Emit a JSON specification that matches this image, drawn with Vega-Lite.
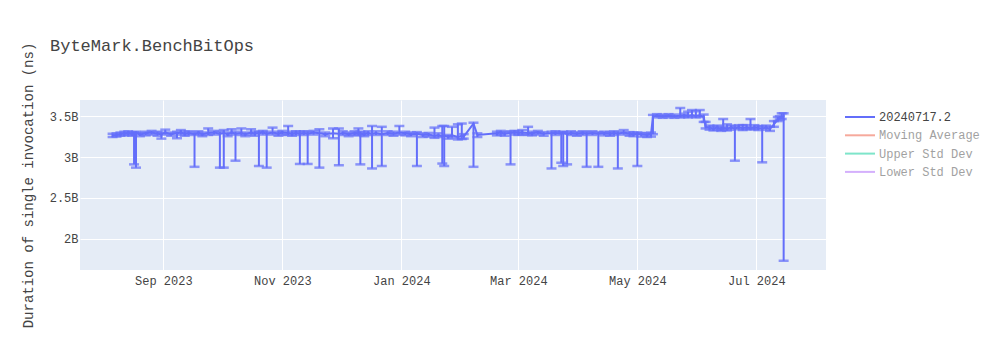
{
  "$schema": "https://vega.github.io/schema/vega-lite/v6.json",
  "width": 746,
  "height": 170,
  "autosize": {"type": "none"},
  "padding": {"left": 80, "top": 100, "right": 174, "bottom": 80},
  "background": "white",
  "title": {"text": "ByteMark.BenchBitOps", "anchor": "start", "frame": "group", "dx": -30, "offset": 0, "dy": 26, "baseline": "alphabetic", "fontSize": 17, "fontWeight": "normal", "color": "#444", "font": "Liberation Mono"},
  "config": {
    "font": "Liberation Mono",
    "view": {"fill": "#E5ECF6", "stroke": null},
    "axis": {"gridColor": "white", "gridWidth": 1, "domain": false, "ticks": false, "labelColor": "#444", "labelFontSize": 12, "labelFont": "Liberation Mono", "titleColor": "#444", "titleFontSize": 14, "titleFontWeight": "normal", "titleFont": "Liberation Mono"}
  },
  "data": {"values": [
    {"date": "2023-08-06", "duration": 3.265e9, "lower": 3.245e9, "upper": 3.285e9},
    {"date": "2023-08-08", "duration": 3.27e9, "lower": 3.25e9, "upper": 3.29e9},
    {"date": "2023-08-10", "duration": 3.28e9, "lower": 3.26e9, "upper": 3.30e9},
    {"date": "2023-08-12", "duration": 3.29e9, "lower": 3.265e9, "upper": 3.31e9},
    {"date": "2023-08-14", "duration": 3.295e9, "lower": 3.27e9, "upper": 3.315e9},
    {"date": "2023-08-16", "duration": 3.28e9, "lower": 3.26e9, "upper": 3.30e9},
    {"date": "2023-08-17", "duration": 3.285e9, "lower": 2.91e9, "upper": 3.30e9},
    {"date": "2023-08-18", "duration": 3.29e9, "lower": 2.87e9, "upper": 3.31e9},
    {"date": "2023-08-20", "duration": 3.275e9, "lower": 3.255e9, "upper": 3.295e9},
    {"date": "2023-08-23", "duration": 3.29e9, "lower": 3.265e9, "upper": 3.31e9},
    {"date": "2023-08-26", "duration": 3.30e9, "lower": 3.275e9, "upper": 3.32e9},
    {"date": "2023-08-29", "duration": 3.285e9, "lower": 3.26e9, "upper": 3.31e9},
    {"date": "2023-08-31", "duration": 3.28e9, "lower": 3.225e9, "upper": 3.30e9},
    {"date": "2023-09-02", "duration": 3.30e9, "lower": 3.275e9, "upper": 3.335e9},
    {"date": "2023-09-05", "duration": 3.28e9, "lower": 3.26e9, "upper": 3.30e9},
    {"date": "2023-09-08", "duration": 3.29e9, "lower": 3.23e9, "upper": 3.31e9},
    {"date": "2023-09-10", "duration": 3.30e9, "lower": 3.275e9, "upper": 3.33e9},
    {"date": "2023-09-12", "duration": 3.285e9, "lower": 3.26e9, "upper": 3.31e9},
    {"date": "2023-09-14", "duration": 3.295e9, "lower": 3.27e9, "upper": 3.315e9},
    {"date": "2023-09-17", "duration": 3.28e9, "lower": 2.88e9, "upper": 3.30e9},
    {"date": "2023-09-19", "duration": 3.295e9, "lower": 3.27e9, "upper": 3.315e9},
    {"date": "2023-09-21", "duration": 3.28e9, "lower": 3.255e9, "upper": 3.30e9},
    {"date": "2023-09-24", "duration": 3.295e9, "lower": 3.27e9, "upper": 3.35e9},
    {"date": "2023-09-27", "duration": 3.30e9, "lower": 3.275e9, "upper": 3.32e9},
    {"date": "2023-09-30", "duration": 3.285e9, "lower": 2.87e9, "upper": 3.31e9},
    {"date": "2023-10-02", "duration": 3.29e9, "lower": 2.87e9, "upper": 3.33e9},
    {"date": "2023-10-04", "duration": 3.28e9, "lower": 3.255e9, "upper": 3.30e9},
    {"date": "2023-10-06", "duration": 3.30e9, "lower": 3.275e9, "upper": 3.34e9},
    {"date": "2023-10-08", "duration": 3.285e9, "lower": 2.955e9, "upper": 3.31e9},
    {"date": "2023-10-11", "duration": 3.295e9, "lower": 3.27e9, "upper": 3.35e9},
    {"date": "2023-10-13", "duration": 3.28e9, "lower": 3.255e9, "upper": 3.30e9},
    {"date": "2023-10-16", "duration": 3.30e9, "lower": 3.275e9, "upper": 3.34e9},
    {"date": "2023-10-18", "duration": 3.285e9, "lower": 3.26e9, "upper": 3.31e9},
    {"date": "2023-10-20", "duration": 3.29e9, "lower": 2.89e9, "upper": 3.31e9},
    {"date": "2023-10-22", "duration": 3.30e9, "lower": 3.275e9, "upper": 3.32e9},
    {"date": "2023-10-24", "duration": 3.285e9, "lower": 2.87e9, "upper": 3.31e9},
    {"date": "2023-10-27", "duration": 3.30e9, "lower": 3.275e9, "upper": 3.36e9},
    {"date": "2023-10-30", "duration": 3.285e9, "lower": 3.26e9, "upper": 3.31e9},
    {"date": "2023-11-01", "duration": 3.30e9, "lower": 3.275e9, "upper": 3.32e9},
    {"date": "2023-11-04", "duration": 3.295e9, "lower": 3.27e9, "upper": 3.38e9},
    {"date": "2023-11-06", "duration": 3.285e9, "lower": 3.26e9, "upper": 3.31e9},
    {"date": "2023-11-08", "duration": 3.295e9, "lower": 3.27e9, "upper": 3.315e9},
    {"date": "2023-11-10", "duration": 3.285e9, "lower": 2.915e9, "upper": 3.31e9},
    {"date": "2023-11-12", "duration": 3.295e9, "lower": 3.27e9, "upper": 3.315e9},
    {"date": "2023-11-14", "duration": 3.285e9, "lower": 2.915e9, "upper": 3.31e9},
    {"date": "2023-11-17", "duration": 3.30e9, "lower": 3.275e9, "upper": 3.32e9},
    {"date": "2023-11-20", "duration": 3.29e9, "lower": 2.87e9, "upper": 3.34e9},
    {"date": "2023-11-23", "duration": 3.28e9, "lower": 3.255e9, "upper": 3.30e9},
    {"date": "2023-11-27", "duration": 3.29e9, "lower": 3.23e9, "upper": 3.35e9},
    {"date": "2023-11-30", "duration": 3.285e9, "lower": 2.90e9, "upper": 3.35e9},
    {"date": "2023-12-02", "duration": 3.295e9, "lower": 3.27e9, "upper": 3.315e9},
    {"date": "2023-12-05", "duration": 3.28e9, "lower": 3.255e9, "upper": 3.30e9},
    {"date": "2023-12-08", "duration": 3.295e9, "lower": 3.27e9, "upper": 3.315e9},
    {"date": "2023-12-10", "duration": 3.29e9, "lower": 3.265e9, "upper": 3.35e9},
    {"date": "2023-12-11", "duration": 3.285e9, "lower": 2.91e9, "upper": 3.31e9},
    {"date": "2023-12-13", "duration": 3.28e9, "lower": 3.255e9, "upper": 3.30e9},
    {"date": "2023-12-15", "duration": 3.295e9, "lower": 3.27e9, "upper": 3.315e9},
    {"date": "2023-12-17", "duration": 3.285e9, "lower": 2.86e9, "upper": 3.38e9},
    {"date": "2023-12-19", "duration": 3.295e9, "lower": 3.27e9, "upper": 3.315e9},
    {"date": "2023-12-22", "duration": 3.28e9, "lower": 2.89e9, "upper": 3.37e9},
    {"date": "2023-12-25", "duration": 3.295e9, "lower": 3.27e9, "upper": 3.315e9},
    {"date": "2023-12-28", "duration": 3.285e9, "lower": 3.26e9, "upper": 3.31e9},
    {"date": "2023-12-31", "duration": 3.30e9, "lower": 3.275e9, "upper": 3.38e9},
    {"date": "2024-01-03", "duration": 3.29e9, "lower": 3.265e9, "upper": 3.31e9},
    {"date": "2024-01-06", "duration": 3.28e9, "lower": 3.255e9, "upper": 3.30e9},
    {"date": "2024-01-09", "duration": 3.285e9, "lower": 2.89e9, "upper": 3.305e9},
    {"date": "2024-01-12", "duration": 3.27e9, "lower": 3.245e9, "upper": 3.29e9},
    {"date": "2024-01-15", "duration": 3.275e9, "lower": 3.25e9, "upper": 3.295e9},
    {"date": "2024-01-18", "duration": 3.26e9, "lower": 3.235e9, "upper": 3.36e9},
    {"date": "2024-01-20", "duration": 3.27e9, "lower": 3.245e9, "upper": 3.29e9},
    {"date": "2024-01-22", "duration": 3.255e9, "lower": 2.92e9, "upper": 3.38e9},
    {"date": "2024-01-23", "duration": 3.26e9, "lower": 2.89e9, "upper": 3.38e9},
    {"date": "2024-01-25", "duration": 3.25e9, "lower": 3.225e9, "upper": 3.27e9},
    {"date": "2024-01-27", "duration": 3.265e9, "lower": 3.24e9, "upper": 3.37e9},
    {"date": "2024-01-30", "duration": 3.245e9, "lower": 3.215e9, "upper": 3.40e9},
    {"date": "2024-02-01", "duration": 3.26e9, "lower": 3.22e9, "upper": 3.41e9},
    {"date": "2024-02-02", "duration": 3.25e9, "lower": 3.225e9, "upper": 3.28e9},
    {"date": "2024-02-07", "duration": 3.41e9, "lower": 2.88e9, "upper": 3.42e9},
    {"date": "2024-02-09", "duration": 3.27e9, "lower": 3.245e9, "upper": 3.29e9},
    {"date": "2024-02-19", "duration": 3.29e9, "lower": 3.265e9, "upper": 3.31e9},
    {"date": "2024-02-21", "duration": 3.30e9, "lower": 3.275e9, "upper": 3.32e9},
    {"date": "2024-02-23", "duration": 3.285e9, "lower": 3.26e9, "upper": 3.305e9},
    {"date": "2024-02-26", "duration": 3.295e9, "lower": 2.91e9, "upper": 3.315e9},
    {"date": "2024-02-28", "duration": 3.30e9, "lower": 3.275e9, "upper": 3.32e9},
    {"date": "2024-03-01", "duration": 3.295e9, "lower": 3.27e9, "upper": 3.315e9},
    {"date": "2024-03-03", "duration": 3.30e9, "lower": 3.275e9, "upper": 3.33e9},
    {"date": "2024-03-06", "duration": 3.295e9, "lower": 3.27e9, "upper": 3.37e9},
    {"date": "2024-03-08", "duration": 3.29e9, "lower": 3.265e9, "upper": 3.31e9},
    {"date": "2024-03-11", "duration": 3.30e9, "lower": 3.275e9, "upper": 3.32e9},
    {"date": "2024-03-14", "duration": 3.285e9, "lower": 3.26e9, "upper": 3.305e9},
    {"date": "2024-03-18", "duration": 3.29e9, "lower": 2.86e9, "upper": 3.31e9},
    {"date": "2024-03-20", "duration": 3.295e9, "lower": 3.27e9, "upper": 3.315e9},
    {"date": "2024-03-23", "duration": 3.285e9, "lower": 2.93e9, "upper": 3.305e9},
    {"date": "2024-03-24", "duration": 3.29e9, "lower": 2.89e9, "upper": 3.31e9},
    {"date": "2024-03-26", "duration": 3.28e9, "lower": 2.91e9, "upper": 3.30e9},
    {"date": "2024-03-28", "duration": 3.295e9, "lower": 3.27e9, "upper": 3.315e9},
    {"date": "2024-03-31", "duration": 3.285e9, "lower": 3.26e9, "upper": 3.305e9},
    {"date": "2024-04-03", "duration": 3.295e9, "lower": 3.27e9, "upper": 3.315e9},
    {"date": "2024-04-05", "duration": 3.285e9, "lower": 2.88e9, "upper": 3.305e9},
    {"date": "2024-04-08", "duration": 3.295e9, "lower": 3.27e9, "upper": 3.315e9},
    {"date": "2024-04-11", "duration": 3.285e9, "lower": 2.88e9, "upper": 3.305e9},
    {"date": "2024-04-14", "duration": 3.29e9, "lower": 3.265e9, "upper": 3.31e9},
    {"date": "2024-04-17", "duration": 3.285e9, "lower": 3.26e9, "upper": 3.305e9},
    {"date": "2024-04-19", "duration": 3.295e9, "lower": 3.27e9, "upper": 3.315e9},
    {"date": "2024-04-21", "duration": 3.285e9, "lower": 2.86e9, "upper": 3.305e9},
    {"date": "2024-04-24", "duration": 3.30e9, "lower": 3.275e9, "upper": 3.33e9},
    {"date": "2024-04-27", "duration": 3.285e9, "lower": 3.26e9, "upper": 3.305e9},
    {"date": "2024-04-29", "duration": 3.28e9, "lower": 3.255e9, "upper": 3.30e9},
    {"date": "2024-05-01", "duration": 3.285e9, "lower": 2.89e9, "upper": 3.30e9},
    {"date": "2024-05-03", "duration": 3.275e9, "lower": 3.25e9, "upper": 3.295e9},
    {"date": "2024-05-06", "duration": 3.27e9, "lower": 3.245e9, "upper": 3.29e9},
    {"date": "2024-05-08", "duration": 3.28e9, "lower": 3.25e9, "upper": 3.30e9},
    {"date": "2024-05-09", "duration": 3.495e9, "lower": 3.28e9, "upper": 3.515e9},
    {"date": "2024-05-11", "duration": 3.505e9, "lower": 3.485e9, "upper": 3.525e9},
    {"date": "2024-05-14", "duration": 3.50e9, "lower": 3.48e9, "upper": 3.52e9},
    {"date": "2024-05-17", "duration": 3.505e9, "lower": 3.485e9, "upper": 3.525e9},
    {"date": "2024-05-20", "duration": 3.50e9, "lower": 3.48e9, "upper": 3.52e9},
    {"date": "2024-05-23", "duration": 3.505e9, "lower": 3.485e9, "upper": 3.60e9},
    {"date": "2024-05-25", "duration": 3.51e9, "lower": 3.49e9, "upper": 3.53e9},
    {"date": "2024-05-27", "duration": 3.505e9, "lower": 3.485e9, "upper": 3.555e9},
    {"date": "2024-05-29", "duration": 3.515e9, "lower": 3.495e9, "upper": 3.575e9},
    {"date": "2024-05-31", "duration": 3.505e9, "lower": 3.485e9, "upper": 3.56e9},
    {"date": "2024-06-02", "duration": 3.51e9, "lower": 3.49e9, "upper": 3.575e9},
    {"date": "2024-06-04", "duration": 3.49e9, "lower": 3.43e9, "upper": 3.52e9},
    {"date": "2024-06-05", "duration": 3.37e9, "lower": 3.35e9, "upper": 3.43e9},
    {"date": "2024-06-07", "duration": 3.36e9, "lower": 3.335e9, "upper": 3.385e9},
    {"date": "2024-06-09", "duration": 3.35e9, "lower": 3.325e9, "upper": 3.375e9},
    {"date": "2024-06-11", "duration": 3.36e9, "lower": 3.335e9, "upper": 3.385e9},
    {"date": "2024-06-13", "duration": 3.345e9, "lower": 3.32e9, "upper": 3.37e9},
    {"date": "2024-06-14", "duration": 3.355e9, "lower": 3.335e9, "upper": 3.465e9},
    {"date": "2024-06-16", "duration": 3.35e9, "lower": 3.325e9, "upper": 3.40e9},
    {"date": "2024-06-18", "duration": 3.36e9, "lower": 3.335e9, "upper": 3.385e9},
    {"date": "2024-06-20", "duration": 3.35e9, "lower": 2.955e9, "upper": 3.375e9},
    {"date": "2024-06-22", "duration": 3.365e9, "lower": 3.34e9, "upper": 3.39e9},
    {"date": "2024-06-24", "duration": 3.355e9, "lower": 3.33e9, "upper": 3.39e9},
    {"date": "2024-06-26", "duration": 3.365e9, "lower": 3.34e9, "upper": 3.39e9},
    {"date": "2024-06-28", "duration": 3.36e9, "lower": 3.34e9, "upper": 3.465e9},
    {"date": "2024-06-30", "duration": 3.365e9, "lower": 3.34e9, "upper": 3.39e9},
    {"date": "2024-07-02", "duration": 3.355e9, "lower": 3.33e9, "upper": 3.38e9},
    {"date": "2024-07-04", "duration": 3.35e9, "lower": 2.935e9, "upper": 3.375e9},
    {"date": "2024-07-06", "duration": 3.36e9, "lower": 3.335e9, "upper": 3.385e9},
    {"date": "2024-07-08", "duration": 3.345e9, "lower": 3.32e9, "upper": 3.37e9},
    {"date": "2024-07-10", "duration": 3.40e9, "lower": 3.37e9, "upper": 3.44e9},
    {"date": "2024-07-12", "duration": 3.46e9, "lower": 3.44e9, "upper": 3.49e9},
    {"date": "2024-07-13", "duration": 3.48e9, "lower": 3.46e9, "upper": 3.50e9},
    {"date": "2024-07-14", "duration": 3.485e9, "lower": 3.465e9, "upper": 3.535e9},
    {"date": "2024-07-15", "duration": 3.49e9, "lower": 1.73e9, "upper": 3.535e9}
  ]},
  "encoding": {
    "x": {"field": "date", "type": "temporal",
      "scale": {"domain": [{"year": 2023, "month": 7, "date": 20, "hours": 7}, {"year": 2024, "month": 8, "date": 5, "hours": 17}]},
      "axis": {"title": null, "format": "%b %Y", "tickCount": {"interval": "month", "step": 2}, "labelPadding": 5, "labelFlush": false}}
  },
  "layer": [
    {
      "mark": {"type": "errorbar", "thickness": 2, "rule": {"color": "#636efa"}, "ticks": {"size": 10, "thickness": 2.5, "color": "#636efa"}},
      "encoding": {
        "y": {"field": "lower", "type": "quantitative",
          "scale": {"domain": [1.617e9, 3.698e9], "nice": false, "zero": false},
          "axis": {"title": "Duration of single invocation (ns)", "values": [2e9, 2.5e9, 3e9, 3.5e9], "labelExpr": "replace(format(datum.value, '~s'), 'G', 'B')", "labelPadding": 2, "titlePadding": 14}},
        "y2": {"field": "upper"}
      }
    },
    {
      "mark": {"type": "line", "strokeWidth": 2},
      "encoding": {
        "y": {"field": "duration", "type": "quantitative",
          "scale": {"domain": [1.617e9, 3.698e9], "nice": false, "zero": false},
          "axis": {"title": "Duration of single invocation (ns)", "values": [2e9, 2.5e9, 3e9, 3.5e9], "labelExpr": "replace(format(datum.value, '~s'), 'G', 'B')", "labelPadding": 2, "titlePadding": 14}},
        "color": {"datum": "20240717.2", "type": "nominal",
          "scale": {"domain": ["20240717.2", "Moving Average", "Upper Std Dev", "Lower Std Dev"], "range": ["#636efa", "#EF553B", "#00cc96", "#ab63fa"]},
          "legend": {"title": null, "orient": "none", "legendX": 774, "legendY": 11, "symbolType": "M-3,0H3", "symbolSize": 100, "symbolStrokeWidth": 2, "labelFontSize": 12, "labelColor": "#444", "labelFont": "Liberation Mono", "labelOffset": 13, "rowPadding": 6.3,
            "encode": {
              "symbols": {"update": {"opacity": {"signal": "datum.value === '20240717.2' ? 1 : 0.5"}}},
              "labels": {"update": {"opacity": {"signal": "datum.value === '20240717.2' ? 1 : 0.5"}}}
            }}
        }
      }
    }
  ]
}
